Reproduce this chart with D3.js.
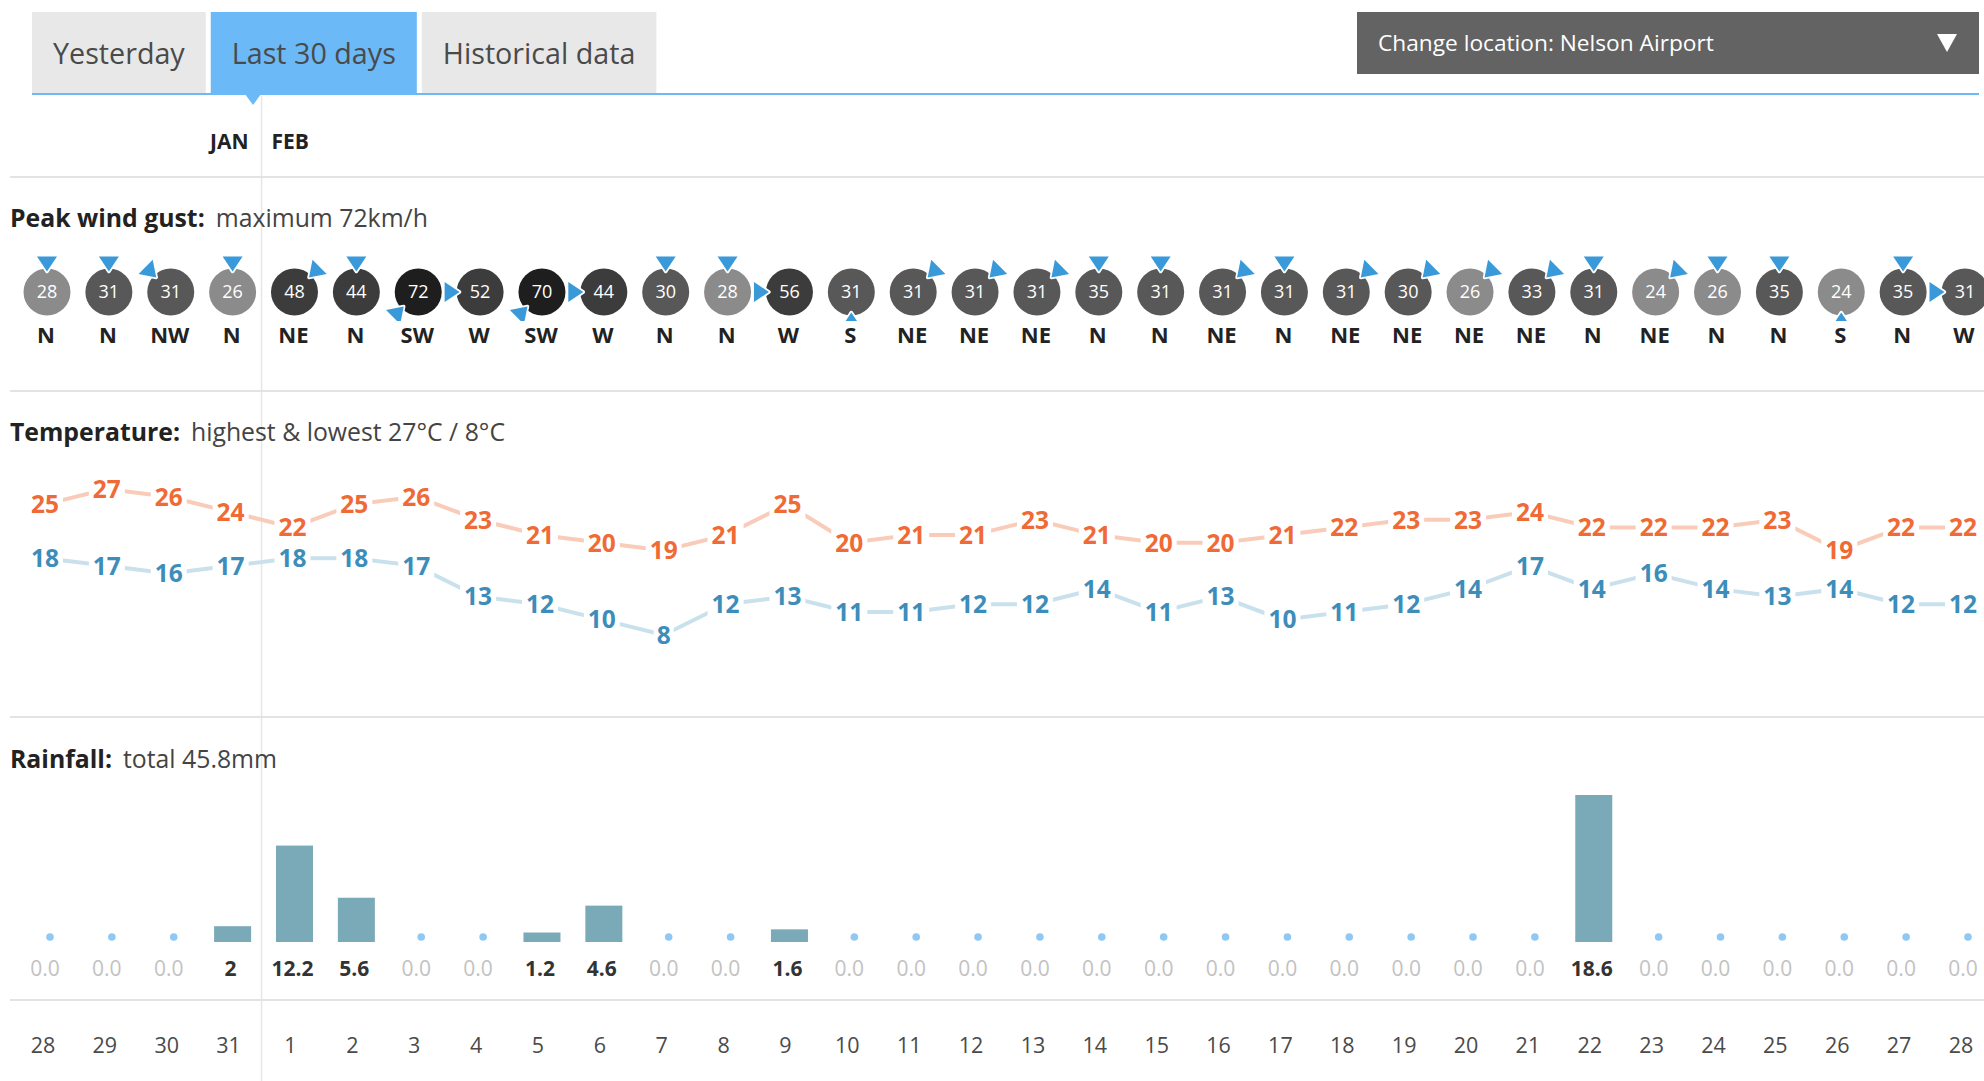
<!DOCTYPE html>
<html>
<head>
<meta charset="utf-8">
<script src="https://cdn.jsdelivr.net/npm/d3@7"></script>
<style>
  html, body { margin: 0; padding: 0; background: #fff; }
  svg { display: block; font-family: "Open Sans", sans-serif; }
</style>
</head>
<body>
<svg id="chart" width="1984" height="1081"></svg>
<script>
// ---------------------------------------------------------------------------
// data

const tabs = ["Yesterday", "Last 30 days", "Historical data"];
const activeTab = 1;
const locationLabel = "Change location: Nelson Airport";
const months = ["JAN", "FEB"];

const days = ["28", "29", "30", "31", "1", "2", "3", "4", "5", "6", "7", "8", "9", "10", "11", "12",
    "13", "14", "15", "16", "17", "18", "19", "20", "21", "22", "23", "24", "25", "26", "27", "28"];

// peak wind gust km/h and direction
const gust = [28, 31, 31, 26, 48, 44, 72, 52, 70, 44, 30, 28, 56, 31, 31, 31,
    31, 35, 31, 31, 31, 31, 30, 26, 33, 31, 24, 26, 35, 24, 35, 31];
const gustDir = ["N", "N", "NW", "N", "NE", "N", "SW", "W", "SW", "W", "N", "N", "W", "S", "NE", "NE",
    "NE", "N", "N", "NE", "N", "NE", "NE", "NE", "NE", "N", "NE", "N", "N", "S", "N", "W"];

// temperature °C
const tempHigh = [25, 27, 26, 24, 22, 25, 26, 23, 21, 20, 19, 21, 25, 20, 21, 21,
    23, 21, 20, 20, 21, 22, 23, 23, 24, 22, 22, 22, 23, 19, 22, 22];
const tempLow = [18, 17, 16, 17, 18, 18, 17, 13, 12, 10, 8, 12, 13, 11, 11, 12,
    12, 14, 11, 13, 10, 11, 12, 14, 17, 14, 16, 14, 13, 14, 12, 12];

// rainfall mm
const rain = [0, 0, 0, 2, 12.2, 5.6, 0, 0, 1.2, 4.6, 0, 0, 1.6, 0, 0, 0,
    0, 0, 0, 0, 0, 0, 0, 0, 0, 18.6, 0, 0, 0, 0, 0, 0];

const titles = [
    { bold: "Peak wind gust:", rest: "maximum " + d3.max(gust) + "km/h" },
    { bold: "Temperature:", rest: "highest & lowest " + d3.max(tempHigh) + "°C / " + d3.min(tempLow) + "°C" },
    { bold: "Rainfall:", rest: "total " + d3.sum(rain).toFixed(1) + "mm" }
];

// ---------------------------------------------------------------------------

const svg = d3.select("#chart");
const width = +svg.attr("width");
const height = +svg.attr("height");

const x = d3.scalePoint()
    .domain(d3.range(days.length))
    .range([45, 1963]);

const step = x.step();
const monthSplit = x(3) + step / 2;   // between 31 Jan and 1 Feb

// separator lines + month divider
svg.append("line")
    .attr("x1", monthSplit).attr("x2", monthSplit)
    .attr("y1", 96).attr("y2", height)
    .attr("stroke", "#e6e6e6").attr("stroke-width", 1.5);

svg.append("g")
    .selectAll("line")
    .data([177, 391, 717, 1000])
    .join("line")
    .attr("x1", 10).attr("x2", width)
    .attr("y1", d => d).attr("y2", d => d)
    .attr("stroke", "#e3e3e3").attr("stroke-width", 2);

// ---------------------------------------------------------------------------
// header: tabs and location dropdown

let tx = 32;
tabs.forEach((t, i) => {
    const g = svg.append("g");
    const rect = g.append("rect")
        .attr("y", 12).attr("height", 82)
        .attr("fill", i === activeTab ? "#6bb9f6" : "#e8e8e8");
    const label = g.append("text")
        .attr("y", 64)
        .attr("font-size", 28.7)
        .attr("fill", "#4a4a4a")
        .text(t);
    const w = label.node().getComputedTextLength() + 42;
    rect.attr("x", tx).attr("width", w);
    label.attr("x", tx + 21);
    tx += w + 5;
});

svg.append("line")
    .attr("x1", 32).attr("x2", 1979)
    .attr("y1", 94).attr("y2", 94)
    .attr("stroke", "#6bb9f6").attr("stroke-width", 2);

// little pointer under the active tab
svg.append("path")
    .attr("d", "M245,94L261,94L253,105Z")
    .attr("fill", "#6bb9f6");

svg.append("rect")
    .attr("x", 1357).attr("y", 12)
    .attr("width", 622).attr("height", 62)
    .attr("fill", "#636363");
svg.append("text")
    .attr("x", 1378).attr("y", 51)
    .attr("font-size", 22.7)
    .attr("fill", "#fff")
    .text(locationLabel);
svg.append("path")
    .attr("d", "M1937,34L1957,34L1947,52Z")
    .attr("fill", "#fff");

// month labels
svg.append("g")
    .selectAll("text")
    .data(months)
    .join("text")
    .attr("x", (d, i) => i === 0 ? monthSplit - 13 : monthSplit + 10)
    .attr("y", 149)
    .attr("text-anchor", (d, i) => i === 0 ? "end" : "start")
    .attr("font-size", 21)
    .attr("font-weight", 700)
    .attr("fill", "#222")
    .text(d => d);

// section titles
svg.append("g")
    .selectAll("text")
    .data(titles)
    .join("text")
    .attr("x", 10)
    .attr("y", (d, i) => [227, 441, 768][i])
    .attr("font-size", 24.8)
    .each(function (d) {
        const t = d3.select(this);
        t.append("tspan").attr("font-weight", 700).attr("fill", "#222").text(d.bold);
        t.append("tspan").attr("dx", 11).attr("fill", "#444").text(d.rest);
    });

// ---------------------------------------------------------------------------
// peak wind gust

const R = 23.5;
const gustColor = d3.scaleThreshold()
    .domain([30, 40, 60])
    .range(["#8b8b8b", "#585858", "#3c3c3c", "#1e1e1e"]);
const dirAngle = { N: 0, NE: 45, E: 90, SE: 135, S: 180, SW: 225, W: 270, NW: 315 };

const wind = svg.append("g")
    .selectAll("g")
    .data(gust)
    .join("g")
    .attr("transform", (d, i) => `translate(${x(i) + 2},292)`);

wind.append("circle")
    .attr("r", R)
    .attr("fill", d => gustColor(d));

wind.append("path")
    .attr("d", `M0,${-(R - 3)}L10,${-(R + 12)}L-10,${-(R + 12)}Z`)
    .attr("transform", (d, i) => `rotate(${dirAngle[gustDir[i]]})`)
    .attr("fill", "#3a9ad9")
    .attr("stroke", "#fff")
    .attr("stroke-width", 3.5)
    .attr("stroke-linejoin", "round")
    .style("paint-order", "stroke");

wind.append("text")
    .attr("text-anchor", "middle")
    .attr("dy", "0.35em")
    .attr("font-size", 18)
    .attr("fill", "#fff")
    .text(d => d);

// direction labels sit on a white box, which trims a south pointer
const dirLab = svg.append("g")
    .selectAll("g")
    .data(gustDir)
    .join("g")
    .attr("transform", (d, i) => `translate(${x(i) + 1},343)`);
dirLab.append("rect")
    .attr("x", -22).attr("width", 44)
    .attr("y", -22).attr("height", 28)
    .attr("fill", "#fff");
dirLab.append("text")
    .attr("text-anchor", "middle")
    .attr("font-size", 22)
    .attr("font-weight", 700)
    .attr("fill", "#222")
    .text(d => d);

// ---------------------------------------------------------------------------
// temperature

const yT = d3.scaleLinear()
    .domain([8, 27])
    .range([635, 489]);

const series = [
    { values: tempHigh, line: "#f9cbb9", text: "#f06a35" },
    { values: tempLow, line: "#c9e1ed", text: "#3d8dbb" }
];

const tempLine = d3.line()
    .x((d, i) => x(i))
    .y(d => yT(d));

const tempG = svg.append("g");

tempG.selectAll("path")
    .data(series)
    .join("path")
    .attr("d", d => tempLine(d.values))
    .attr("fill", "none")
    .attr("stroke", d => d.line)
    .attr("stroke-width", 4);

series.forEach(s => {
    const lab = tempG.append("g")
        .selectAll("g")
        .data(s.values)
        .join("g")
        .attr("transform", (d, i) => `translate(${x(i)},${yT(d)})`);
    lab.append("rect")
        .attr("x", d => d < 10 ? -10 : -18)
        .attr("width", d => d < 10 ? 20 : 36)
        .attr("y", -14).attr("height", 28)
        .attr("fill", "#fff");
    lab.append("text")
        .attr("text-anchor", "middle")
        .attr("dy", "0.36em")
        .attr("font-size", 24.5)
        .attr("font-weight", 700)
        .attr("fill", s.text)
        .text(d => d);
});

// ---------------------------------------------------------------------------
// rainfall

const yR = d3.scaleLinear()
    .domain([0, 18.6])
    .range([942, 795]);

const rainG = svg.append("g");

rainG.selectAll("rect")
    .data(rain.map((v, i) => ({ v, i })).filter(d => d.v > 0))
    .join("rect")
    .attr("x", d => x(d.i) + 2 - 18.5)
    .attr("width", 37)
    .attr("y", d => yR(d.v))
    .attr("height", d => yR(0) - yR(d.v))
    .attr("fill", "#7aa9b7");

rainG.selectAll("circle")
    .data(rain.map((v, i) => ({ v, i })).filter(d => d.v === 0))
    .join("circle")
    .attr("cx", d => x(d.i) + 5)
    .attr("cy", 937)
    .attr("r", 3.8)
    .attr("fill", "#90c8f4");

rainG.selectAll("text")
    .data(rain)
    .join("text")
    .attr("x", (d, i) => x(i))
    .attr("y", 976)
    .attr("text-anchor", "middle")
    .attr("font-size", 21)
    .attr("font-weight", d => d > 0 ? 700 : 400)
    .attr("fill", d => d > 0 ? "#333" : "#c2c2c2")
    .text(d => d > 0 ? String(d) : "0.0");

// day axis
svg.append("g")
    .selectAll("text")
    .data(days)
    .join("text")
    .attr("x", (d, i) => x(i) - 2)
    .attr("y", 1053)
    .attr("text-anchor", "middle")
    .attr("font-size", 21.5)
    .attr("fill", "#4a4a4a")
    .text(d => d);
</script>
</body>
</html>
